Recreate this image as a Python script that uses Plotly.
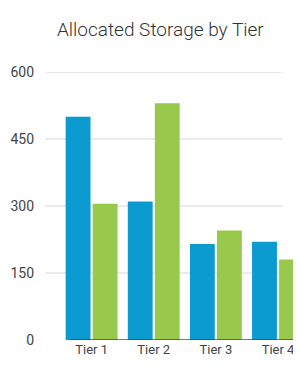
import plotly.graph_objects as go

categories = ["Tier 1", "Tier 2", "Tier 3", "Tier 4"]
series_a = [500, 310, 215, 220]
series_b = [305, 530, 245, 180]
y_ticks = [0, 150, 300, 450, 600]

FONT = "Roboto, Arial, sans-serif"

fig = go.Figure()
fig.add_trace(go.Bar(x=categories, y=series_a, marker=dict(color="#0b9bd0", line=dict(width=0))))
fig.add_trace(go.Bar(x=categories, y=series_b, marker=dict(color="#98c84c", line=dict(width=0))))

for v in y_ticks[1:]:
    fig.add_shape(type="line", xref="paper", yref="y", x0=0, x1=0.93, y0=v, y1=v,
                  line=dict(color="#d6d6d6", width=1), layer="below")
fig.add_shape(type="line", xref="paper", yref="y", x0=0.1, x1=1, y0=y_ticks[0], y1=y_ticks[0],
              line=dict(color="#4a4a4a", width=1.5), layer="above")

# page body has an 8px default margin, so the figure is sized to end at the window edge
fig.update_layout(
    width=293, height=364,
    margin=dict(l=37, r=0, t=64, b=32, autoexpand=False),
    paper_bgcolor="white", plot_bgcolor="white",
    barmode="group", bargap=0.13, bargroupgap=0.08,
    showlegend=False,
    title=dict(text="Allocated Storage by Tier", x=0.52, xanchor="center", y=0.94, yanchor="middle",
               font=dict(family=FONT, size=19, color="#333333", weight=300)),
    font=dict(family=FONT, color="#444444"),
    xaxis=dict(range=[-0.75, 3.37], showgrid=False, showline=False, automargin=False,
               tickfont=dict(size=13, color="#444444"), ticks="", fixedrange=True),
    yaxis=dict(range=[0, 600], tickvals=y_ticks, showgrid=False, zeroline=False, showline=False,
               automargin=False,
               tickfont=dict(size=14, color="#444444"), ticks="", ticklabelstandoff=10),
)

fig.write_html("out.html")
